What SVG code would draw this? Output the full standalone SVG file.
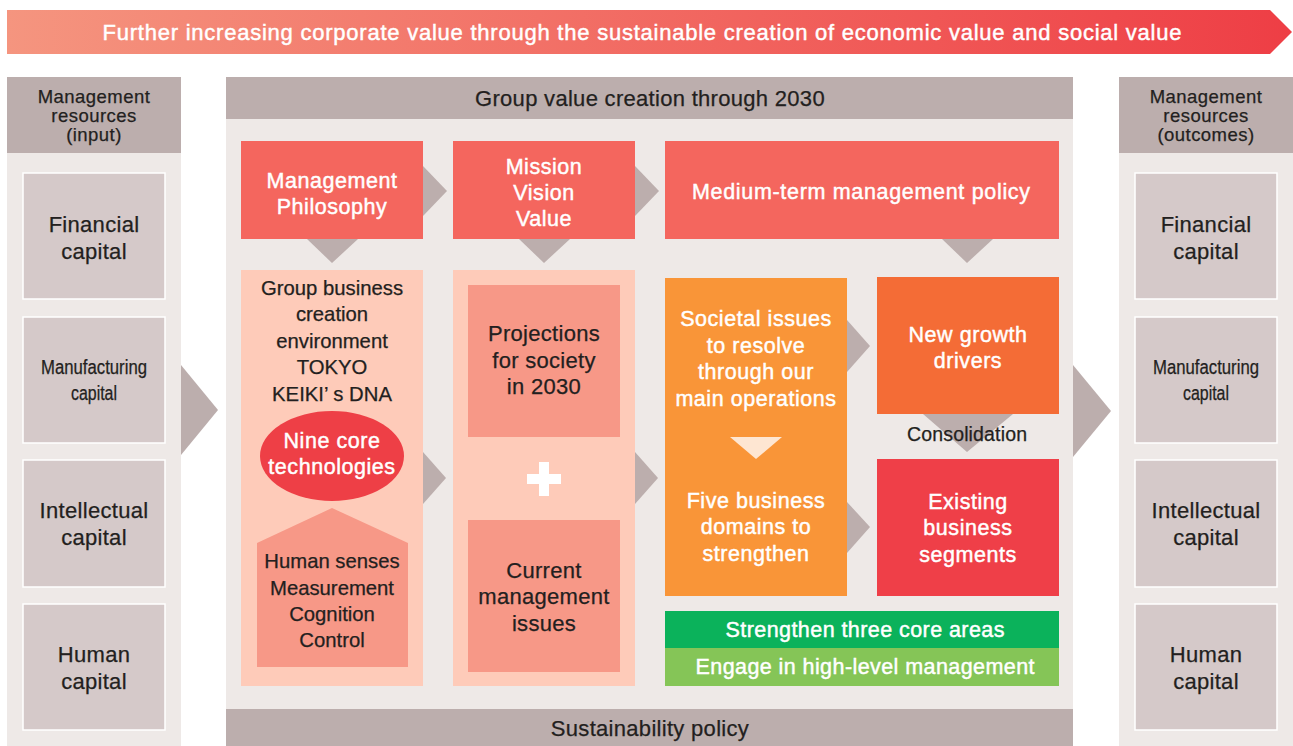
<svg xmlns="http://www.w3.org/2000/svg" width="1293" height="746" viewBox="0 0 1293 746">
  <style>
    text { font-family: "Liberation Sans", Arial, sans-serif; text-anchor: middle; }
    .dk { fill: #231f20; stroke: #231f20; stroke-width: 0.25; }
    .wt { fill: #ffffff; stroke: #ffffff; stroke-width: 0.45; }
    .hd { font-size: 18.5px; letter-spacing: 0.45px; }
    .cap { font-size: 22px; letter-spacing: 0.3px; }
    .wcap { font-size: 21.5px; letter-spacing: 0.55px; }
    .bx { font-size: 20.3px; }
    .ttl { font-size: 22px; letter-spacing: 0.3px; }
    .gray { fill: #bcaead; }
    .panel { fill: #eee9e7; }
    .capbox { fill: #d5c9c9; stroke: #ffffff; stroke-width: 1.5; }
    .chev { fill: #bcaead; }
  </style>
  <defs>
    <linearGradient id="bannerGrad" x1="0" y1="0" x2="1" y2="0">
      <stop offset="0" stop-color="#f5957f"/>
      <stop offset="1" stop-color="#ee3e45"/>
    </linearGradient>
  </defs>

  <rect width="1293" height="746" fill="#ffffff"/>

  <!-- banner -->
  <g id="banner">
    <polygon points="7,10 1270,10 1292,32 1270,54 7,54" fill="url(#bannerGrad)"/>
    <text x="642" y="40" class="wt" font-size="22" textLength="1079" lengthAdjust="spacing">Further increasing corporate value through the sustainable creation of economic value and social value</text>
  </g>

  <!-- left column: inputs -->
  <g id="inputs">
    <rect x="7" y="153" width="174" height="593" class="panel"/>
    <rect x="7" y="77" width="174" height="76" class="gray"/>
    <text class="dk hd"><tspan x="94" y="103">Management</tspan><tspan x="94" y="122">resources</tspan><tspan x="94" y="141">(input)</tspan></text>
  </g>
  <g id="in-financial">
    <rect x="23" y="173" width="142" height="126" class="capbox"/>
    <text class="dk cap"><tspan x="94" y="232">Financial</tspan><tspan x="94" y="259">capital</tspan></text>
  </g>
  <g id="in-manufacturing">
    <rect x="23" y="317" width="142" height="126" class="capbox"/>
    <text class="dk" font-size="19.5"><tspan x="94" y="374" textLength="106" lengthAdjust="spacingAndGlyphs">Manufacturing</tspan><tspan x="94" y="400" textLength="46" lengthAdjust="spacingAndGlyphs">capital</tspan></text>
  </g>
  <g id="in-intellectual">
    <rect x="23" y="460" width="142" height="127" class="capbox"/>
    <text class="dk cap"><tspan x="94" y="518">Intellectual</tspan><tspan x="94" y="545">capital</tspan></text>
  </g>
  <g id="in-human">
    <rect x="23" y="604" width="142" height="126" class="capbox"/>
    <text class="dk cap"><tspan x="94" y="662">Human</tspan><tspan x="94" y="689">capital</tspan></text>
  </g>

  <!-- right column: outcomes -->
  <g id="outcomes">
    <rect x="1119" y="153" width="174" height="593" class="panel"/>
    <rect x="1119" y="77" width="174" height="76" class="gray"/>
    <text class="dk hd"><tspan x="1206" y="103">Management</tspan><tspan x="1206" y="122">resources</tspan><tspan x="1206" y="141">(outcomes)</tspan></text>
  </g>
  <g id="out-financial">
    <rect x="1135" y="173" width="142" height="126" class="capbox"/>
    <text class="dk cap"><tspan x="1206" y="232">Financial</tspan><tspan x="1206" y="259">capital</tspan></text>
  </g>
  <g id="out-manufacturing">
    <rect x="1135" y="317" width="142" height="126" class="capbox"/>
    <text class="dk" font-size="19.5"><tspan x="1206" y="374" textLength="106" lengthAdjust="spacingAndGlyphs">Manufacturing</tspan><tspan x="1206" y="400" textLength="46" lengthAdjust="spacingAndGlyphs">capital</tspan></text>
  </g>
  <g id="out-intellectual">
    <rect x="1135" y="460" width="142" height="127" class="capbox"/>
    <text class="dk cap"><tspan x="1206" y="518">Intellectual</tspan><tspan x="1206" y="545">capital</tspan></text>
  </g>
  <g id="out-human">
    <rect x="1135" y="604" width="142" height="126" class="capbox"/>
    <text class="dk cap"><tspan x="1206" y="662">Human</tspan><tspan x="1206" y="689">capital</tspan></text>
  </g>

  <!-- central panel -->
  <g id="center-panel">
    <rect x="226" y="119" width="847" height="590" class="panel"/>
    <rect x="226" y="77" width="847" height="42" class="gray"/>
    <text x="650" y="106" class="dk ttl">Group value creation through 2030</text>
    <rect x="226" y="709" width="847" height="37" class="gray"/>
    <text x="650" y="736" class="dk ttl">Sustainability policy</text>
  </g>

  <!-- connectors (chevrons) -->
  <g id="connectors">
    <polygon points="181,365 218,410 181,455" class="chev"/>
    <polygon points="1073,365 1111,411 1073,457" class="chev"/>
    <polygon points="423,166 447,191 423,216" class="chev"/>
    <polygon points="635,166 659,191 635,216" class="chev"/>
    <polygon points="307,239 358,239 332,263" class="chev"/>
    <polygon points="519,239 570,239 544,263" class="chev"/>
    <polygon points="942,239 993,239 967,263" class="chev"/>
    <polygon points="423,452 446,478 423,504" class="chev"/>
    <polygon points="635,452 658,478 635,504" class="chev"/>
    <polygon points="847,320 870,346 847,372" class="chev"/>
    <polygon points="847,502 870,527 847,553" class="chev"/>
    <polygon points="923,414 1013,414 967,452" class="chev"/>
  </g>

  <g id="management-philosophy">
    <rect x="241" y="141" width="182" height="98" fill="#f4665e"/>
    <text class="wt wcap"><tspan x="332" y="188">Management</tspan><tspan x="332" y="214">Philosophy</tspan></text>
  </g>
  <g id="mission-vision-value">
    <rect x="453" y="141" width="182" height="98" fill="#f4665e"/>
    <text class="wt wcap"><tspan x="544" y="174">Mission</tspan><tspan x="544" y="200">Vision</tspan><tspan x="544" y="226">Value</tspan></text>
  </g>
  <g id="medium-term-policy">
    <rect x="665" y="141" width="394" height="98" fill="#f4665e"/>
    <text x="861" y="199" class="wt" font-size="21.5" textLength="338" lengthAdjust="spacing">Medium-term management policy</text>
  </g>

  <g id="business-environment">
    <rect x="241" y="270" width="182" height="416" fill="#fecbb9"/>
    <text class="dk bx"><tspan x="332" y="295">Group business</tspan><tspan x="332" y="321">creation</tspan><tspan x="332" y="348">environment</tspan><tspan x="332" y="374">TOKYO</tspan><tspan x="332" y="401">KEIKI’ s DNA</tspan></text>
  </g>
  <g id="nine-core-technologies">
    <ellipse cx="332" cy="456" rx="72" ry="45" fill="#ee3f46"/>
    <text class="wt wcap"><tspan x="332" y="448">Nine core</tspan><tspan x="332" y="474">technologies</tspan></text>
  </g>
  <g id="human-senses">
    <polygon points="257,543 332,508 408,543 408,667 257,667" fill="#f79887"/>
    <text class="dk bx"><tspan x="332" y="568">Human senses</tspan><tspan x="332" y="595">Measurement</tspan><tspan x="332" y="621">Cognition</tspan><tspan x="332" y="647">Control</tspan></text>
  </g>

  <g id="society-issues">
    <rect x="453" y="270" width="182" height="416" fill="#fecbb9"/>
    <rect x="527" y="474" width="34" height="10" fill="#ffffff"/>
    <rect x="539" y="462" width="10" height="34" fill="#ffffff"/>
  </g>
  <g id="projections-2030">
    <rect x="468" y="285" width="152" height="152" fill="#f79887"/>
    <text class="dk cap"><tspan x="544" y="341">Projections</tspan><tspan x="544" y="368">for society</tspan><tspan x="544" y="394">in 2030</tspan></text>
  </g>
  <g id="current-issues">
    <rect x="468" y="520" width="152" height="152" fill="#f79887"/>
    <text class="dk cap"><tspan x="544" y="578">Current</tspan><tspan x="544" y="604">management</tspan><tspan x="544" y="631">issues</tspan></text>
  </g>

  <g id="societal-issues">
    <rect x="665" y="278" width="182" height="318" fill="#f99538"/>
    <text class="wt wcap"><tspan x="756" y="326">Societal issues</tspan><tspan x="756" y="353">to resolve</tspan><tspan x="756" y="379">through our</tspan><tspan x="756" y="406">main operations</tspan></text>
    <polygon points="730,437 782,437 756,459" fill="#fee6d2"/>
    <text class="wt wcap"><tspan x="756" y="508">Five business</tspan><tspan x="756" y="534">domains to</tspan><tspan x="756" y="561">strengthen</tspan></text>
  </g>
  <g id="new-growth-drivers">
    <rect x="877" y="277" width="182" height="137" fill="#f46c36"/>
    <text class="wt wcap"><tspan x="968" y="342">New growth</tspan><tspan x="968" y="368">drivers</tspan></text>
  </g>
  <text x="967" y="441" class="dk" font-size="19.5" textLength="120" lengthAdjust="spacing">Consolidation</text>
  <g id="existing-segments">
    <rect x="877" y="459" width="182" height="137" fill="#ef3f48"/>
    <text class="wt wcap"><tspan x="968" y="509">Existing</tspan><tspan x="968" y="535">business</tspan><tspan x="968" y="562">segments</tspan></text>
  </g>

  <g id="three-core-areas">
    <rect x="665" y="611" width="394" height="37" fill="#0bb25b"/>
    <text x="865" y="637" class="wt" font-size="21.5" textLength="279" lengthAdjust="spacing">Strengthen three core areas</text>
  </g>
  <g id="high-level-management">
    <rect x="665" y="648" width="394" height="38" fill="#85c557"/>
    <text x="865" y="674" class="wt" font-size="21.5" textLength="339" lengthAdjust="spacing">Engage in high-level management</text>
  </g>
</svg>
